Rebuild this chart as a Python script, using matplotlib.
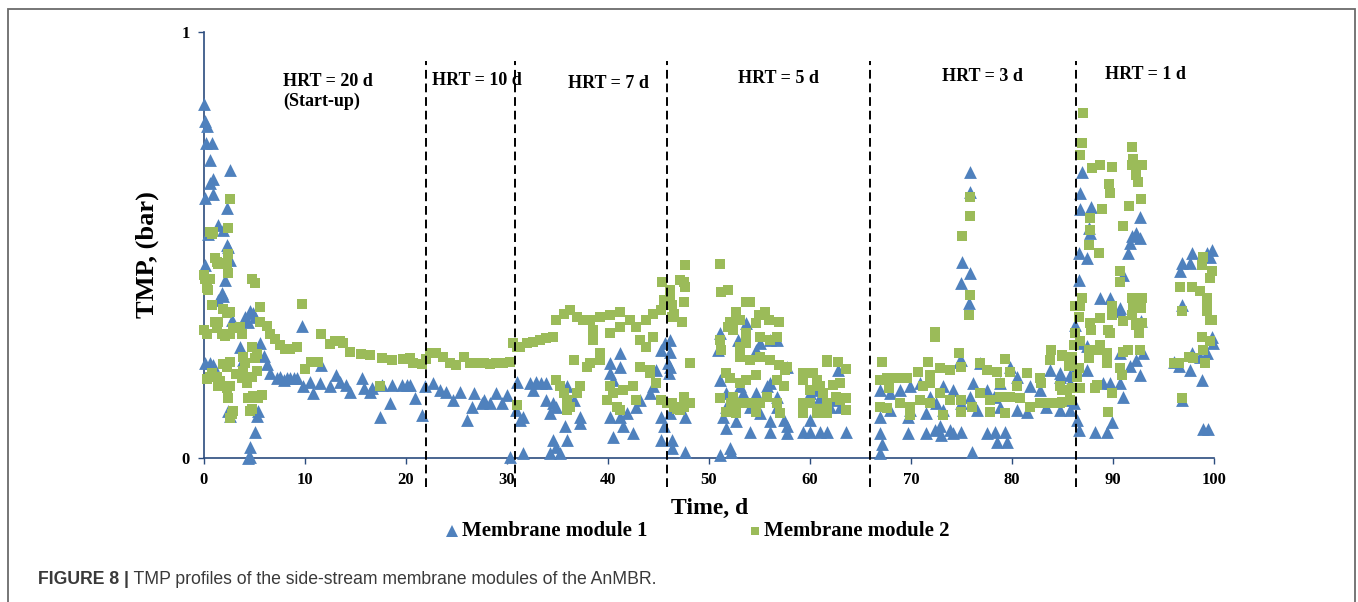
import matplotlib.pyplot as plt
from matplotlib.lines import Line2D
from matplotlib.patches import Rectangle

# (day, TMP in bar), grouped by HRT period
m1_hrt20 = [(0.03, 0.83), (0.1, 0.79), (0.26, 0.78), (0.2, 0.74), (0.76, 0.74), (0.59, 0.70),
            (0.92, 0.656), (0.59, 0.645), (0.1, 0.61), (0.92, 0.62), (2.57, 0.676), (2.24, 0.586),
            (1.42, 0.547), (0.43, 0.527), (1.91, 0.535), (2.24, 0.50), (2.41, 0.496), (2.57, 0.465),
            (0.1, 0.453), (2.08, 0.418), (1.75, 0.387), (1.91, 0.38), (1.42, 0.37), (4.06, 0.33),
            (4.55, 0.345), (4.89, 0.34), (4.39, 0.32), (5.05, 0.33), (2.74, 0.324), (0.1, 0.222),
            (0.59, 0.222), (0.92, 0.218), (5.54, 0.27), (3.56, 0.26), (3.9, 0.23), (5.9, 0.24),
            (6.2, 0.22), (6.5, 0.2), (2.57, 0.098), (2.41, 0.11), (5.21, 0.098), (5.38, 0.11),
            (5.05, 0.062), (4.55, 0.027), (4.55, 0.003), (4.39, 0.0), (7.2, 0.187), (7.5, 0.19),
            (7.9, 0.183), (8.2, 0.187), (8.5, 0.187), (8.9, 0.187), (9.2, 0.187), (9.67, 0.31),
            (9.83, 0.168), (10.5, 0.179), (10.8, 0.152), (11.5, 0.175), (11.6, 0.218), (12.5, 0.168),
            (13.1, 0.195), (13.5, 0.179), (14.1, 0.171), (14.5, 0.156), (15.6, 0.187), (15.8, 0.164),
            (16.4, 0.156), (16.6, 0.164), (17.4, 0.097), (17.6, 0.171), (18.4, 0.128), (18.6, 0.171),
            (19.6, 0.171), (20.1, 0.171), (20.4, 0.171), (20.9, 0.14), (21.6, 0.10), (21.9, 0.168)]
m1_hrt10 = [(22.7, 0.175), (23.4, 0.16), (24.0, 0.156), (24.7, 0.136), (25.3, 0.156), (26.0, 0.089),
            (26.5, 0.12), (26.7, 0.152), (27.5, 0.128), (27.7, 0.136), (28.3, 0.128), (28.9, 0.152),
            (29.5, 0.128), (30.0, 0.148), (30.3, 0.003)]
m1_hrt7 = [(31.0, 0.179), (30.9, 0.113), (31.3, 0.089), (31.6, 0.097), (31.6, 0.011), (32.3, 0.175),
           (32.9, 0.179), (33.4, 0.175), (33.9, 0.175), (32.6, 0.16), (33.9, 0.136), (34.6, 0.128),
           (34.9, 0.12), (34.3, 0.105), (34.6, 0.042), (34.9, 0.027), (35.2, 0.011), (34.3, 0.011),
           (35.9, 0.042), (35.7, 0.074), (35.9, 0.168), (36.6, 0.136), (37.2, 0.097), (37.2, 0.081),
           (40.2, 0.222), (41.2, 0.246), (41.2, 0.214), (40.2, 0.199), (40.5, 0.183), (40.2, 0.097),
           (41.2, 0.097), (41.5, 0.074), (42.5, 0.058), (40.5, 0.05), (41.9, 0.105), (42.8, 0.12),
           (43.2, 0.136), (44.2, 0.152), (44.5, 0.168), (44.8, 0.206), (45.2, 0.254), (45.6, 0.27),
           (45.2, 0.042), (45.2, 0.097), (45.5, 0.074)]
m1_hrt5 = [(46.1, 0.277), (46.1, 0.25), (45.9, 0.222), (46.1, 0.214), (46.0, 0.199), (47.6, 0.097),
           (46.1, 0.105), (46.3, 0.043), (46.3, 0.023), (47.6, 0.015), (51.1, 0.293), (50.9, 0.254),
           (52.9, 0.277), (53.7, 0.316), (55.0, 0.269), (54.7, 0.254), (56.0, 0.277), (56.7, 0.277),
           (51.1, 0.183), (51.7, 0.152), (53.1, 0.168), (53.4, 0.152), (54.7, 0.152), (55.7, 0.168),
           (56.0, 0.175), (56.7, 0.144), (57.7, 0.214), (51.7, 0.12), (51.4, 0.097), (52.7, 0.086),
           (54.1, 0.12), (55.0, 0.105), (56.7, 0.12), (57.4, 0.09), (56.0, 0.086), (57.7, 0.074),
           (57.7, 0.058), (54.1, 0.062), (56.0, 0.062), (51.7, 0.07), (51.1, 0.007), (52.1, 0.023),
           (52.2, 0.015), (60.0, 0.152), (60.7, 0.16), (61.0, 0.144), (62.0, 0.12), (62.3, 0.136),
           (63.0, 0.12), (60.0, 0.09), (59.3, 0.062), (60.0, 0.062), (61.0, 0.062), (61.7, 0.062),
           (63.6, 0.062), (62.8, 0.207)]
m1_hrt3 = [(75.8, 0.672), (75.8, 0.625), (75.0, 0.461), (75.8, 0.434), (74.9, 0.41), (75.7, 0.363),
           (74.9, 0.23), (74.7, 0.225), (66.9, 0.097), (66.9, 0.058), (67.1, 0.034), (66.9, 0.011),
           (69.7, 0.097), (69.7, 0.058), (71.5, 0.058), (72.4, 0.066), (72.9, 0.074), (73.0, 0.054),
           (73.9, 0.066), (74.2, 0.058), (74.9, 0.062), (76.0, 0.015), (77.5, 0.058), (78.3, 0.062),
           (79.3, 0.062), (79.5, 0.038), (78.5, 0.038), (66.9, 0.16), (67.9, 0.152), (68.9, 0.16),
           (69.9, 0.168), (70.9, 0.175), (71.9, 0.144), (72.5, 0.128), (73.2, 0.168), (74.2, 0.16),
           (74.9, 0.128), (75.8, 0.144), (76.1, 0.175), (76.8, 0.222), (77.5, 0.16), (78.2, 0.144),
           (78.8, 0.175), (79.8, 0.214), (80.5, 0.191), (81.8, 0.168), (82.8, 0.16), (83.8, 0.207),
           (84.7, 0.191), (85.7, 0.175), (67.9, 0.113), (69.9, 0.113), (71.5, 0.105), (73.2, 0.113),
           (76.5, 0.113), (78.8, 0.12), (80.5, 0.113), (81.5, 0.109), (83.4, 0.12), (84.7, 0.113),
           (85.7, 0.113), (84.75, 0.199), (85.7, 0.195), (85.7, 0.136)]
m1_hrt1 = [(86.9, 0.672), (86.7, 0.621), (86.7, 0.585), (87.8, 0.59), (87.6, 0.539), (87.7, 0.528),
           (92.7, 0.566), (92.3, 0.528), (91.9, 0.52), (92.7, 0.516), (91.7, 0.504), (91.5, 0.481),
           (86.6, 0.481), (87.4, 0.469), (86.6, 0.418), (91.0, 0.43), (88.7, 0.375), (89.7, 0.375),
           (90.7, 0.352), (90.7, 0.344), (92.8, 0.321), (86.2, 0.313), (86.7, 0.27), (87.4, 0.262),
           (88.5, 0.258), (90.7, 0.246), (87.4, 0.207), (89.0, 0.176), (89.7, 0.176), (90.7, 0.176),
           (91.7, 0.215), (92.3, 0.23), (93.0, 0.246), (92.7, 0.195), (91.0, 0.144), (86.1, 0.128),
           (86.4, 0.089), (86.6, 0.066), (88.2, 0.062), (89.4, 0.062), (89.9, 0.085), (86.2, 0.207),
           (96.6, 0.438), (96.8, 0.457), (97.6, 0.457), (97.8, 0.482), (99.3, 0.482), (99.8, 0.488),
           (99.6, 0.473), (96.8, 0.359), (96.0, 0.226), (96.5, 0.215), (97.8, 0.246), (97.6, 0.207),
           (98.6, 0.238), (99.3, 0.246), (99.8, 0.285), (99.9, 0.27), (98.8, 0.183), (96.8, 0.136),
           (98.9, 0.069), (99.4, 0.069)]

m2_hrt20 = [(2.57, 0.609), (0.59, 0.53), (0.76, 0.525), (0.92, 0.53), (2.41, 0.54), (2.41, 0.48),
            (2.24, 0.457), (1.09, 0.47), (1.25, 0.46), (1.42, 0.455), (0.0, 0.43), (0.1, 0.42),
            (0.26, 0.40), (0.43, 0.395), (0.59, 0.42), (2.41, 0.435), (4.72, 0.42), (5.05, 0.41),
            (5.54, 0.355), (0.76, 0.36), (1.91, 0.35), (2.57, 0.342), (2.24, 0.34), (0.0, 0.30),
            (0.26, 0.29), (1.09, 0.32), (1.42, 0.32), (1.25, 0.305), (1.75, 0.29), (2.08, 0.287),
            (2.57, 0.29), (2.9, 0.305), (3.56, 0.308), (3.72, 0.29), (5.54, 0.32), (6.2, 0.31),
            (6.53, 0.29), (7.0, 0.28), (7.5, 0.265), (8.0, 0.257), (8.5, 0.257), (9.2, 0.26),
            (9.67, 0.362), (9.99, 0.21), (10.6, 0.225), (11.3, 0.225), (11.6, 0.29), (12.5, 0.267),
            (13.0, 0.275), (13.5, 0.275), (13.8, 0.27), (14.5, 0.25), (15.5, 0.245), (16.4, 0.242),
            (17.6, 0.235), (18.6, 0.23), (19.7, 0.232), (20.4, 0.235), (20.7, 0.223), (21.6, 0.22),
            (17.4, 0.168), (0.26, 0.185), (0.59, 0.19), (0.76, 0.2), (1.25, 0.19), (1.58, 0.18),
            (1.42, 0.17), (2.24, 0.165), (2.57, 0.168), (2.41, 0.14), (2.74, 0.103), (2.9, 0.11),
            (2.57, 0.095), (1.91, 0.22), (2.24, 0.213), (2.57, 0.225), (3.22, 0.197), (3.9, 0.205),
            (3.72, 0.188), (4.22, 0.175), (4.72, 0.19), (5.21, 0.205), (4.39, 0.14), (4.88, 0.145),
            (5.38, 0.14), (5.7, 0.148), (4.72, 0.115), (4.55, 0.11), (5.21, 0.245), (4.72, 0.26),
            (5.05, 0.235), (3.9, 0.238), (4.06, 0.222)]
m2_hrt10 = [(22.0, 0.232), (22.4, 0.246), (23.0, 0.246), (23.7, 0.238), (24.4, 0.222), (25.0, 0.218),
            (25.7, 0.238), (26.3, 0.222), (27.0, 0.222), (27.7, 0.222), (28.3, 0.22), (28.9, 0.222),
            (29.6, 0.222), (30.3, 0.226)]
m2_hrt7 = [(30.6, 0.27), (31.0, 0.261), (31.3, 0.261), (32.0, 0.27), (32.6, 0.273), (33.3, 0.277),
           (33.9, 0.281), (34.6, 0.285), (34.9, 0.324), (35.6, 0.339), (36.2, 0.347), (36.9, 0.332),
           (37.5, 0.324), (38.2, 0.324), (39.2, 0.332), (40.2, 0.336), (41.2, 0.343), (38.5, 0.3),
           (40.2, 0.293), (41.2, 0.308), (42.2, 0.324), (42.8, 0.308), (43.8, 0.324), (44.5, 0.339),
           (45.2, 0.347), (45.5, 0.371), (45.3, 0.414), (36.6, 0.23), (37.9, 0.214), (38.2, 0.222),
           (39.2, 0.246), (39.2, 0.23), (38.5, 0.277), (34.9, 0.183), (35.2, 0.168), (35.6, 0.152),
           (35.9, 0.136), (35.9, 0.113), (36.2, 0.12), (37.2, 0.168), (36.9, 0.152), (39.9, 0.136),
           (40.2, 0.168), (40.5, 0.152), (40.9, 0.12), (41.2, 0.113), (41.5, 0.16), (43.2, 0.277),
           (43.8, 0.261), (44.5, 0.285), (44.2, 0.206), (43.2, 0.214), (42.5, 0.168), (42.8, 0.136),
           (44.2, 0.199), (44.8, 0.175), (45.2, 0.136), (31.0, 0.124)]
m2_hrt5 = [(46.1, 0.394), (46.1, 0.371), (46.5, 0.339), (47.1, 0.418), (45.8, 0.128), (46.5, 0.12),
           (47.1, 0.113), (47.6, 0.453), (51.1, 0.455), (47.5, 0.414), (47.6, 0.402), (51.2, 0.39),
           (51.9, 0.394), (46.3, 0.359), (47.5, 0.367), (47.3, 0.32), (46.3, 0.332), (53.7, 0.367),
           (54.1, 0.367), (52.7, 0.343), (53.1, 0.324), (52.1, 0.32), (51.9, 0.308), (52.4, 0.301),
           (54.9, 0.336), (55.5, 0.343), (55.9, 0.324), (54.7, 0.316), (56.9, 0.32), (51.1, 0.277),
           (51.2, 0.254), (53.7, 0.293), (55.0, 0.285), (56.0, 0.277), (56.7, 0.285), (53.1, 0.261),
           (53.7, 0.269), (53.1, 0.238), (54.1, 0.23), (55.0, 0.238), (56.0, 0.23), (56.9, 0.218),
           (57.5, 0.207), (57.7, 0.214), (48.1, 0.222), (51.7, 0.199), (52.1, 0.187), (53.1, 0.175),
           (53.7, 0.183), (54.7, 0.195), (56.7, 0.183), (57.4, 0.168), (47.5, 0.144), (48.1, 0.128),
           (47.5, 0.12), (46.8, 0.116), (46.3, 0.128), (51.1, 0.14), (52.4, 0.144), (52.2, 0.128),
           (53.1, 0.128), (54.1, 0.128), (55.0, 0.128), (55.7, 0.144), (56.7, 0.128), (57.0, 0.105),
           (51.7, 0.109), (52.7, 0.105), (54.7, 0.109), (59.3, 0.199), (59.3, 0.183), (60.3, 0.199),
           (60.7, 0.183), (61.0, 0.168), (61.7, 0.226), (61.7, 0.23), (62.8, 0.226), (63.6, 0.21),
           (63.0, 0.175), (62.3, 0.171), (60.0, 0.16), (61.3, 0.152), (62.6, 0.144), (63.0, 0.136),
           (63.6, 0.14), (59.3, 0.128), (60.0, 0.128), (60.7, 0.116), (61.7, 0.128), (59.3, 0.105),
           (60.7, 0.105), (61.7, 0.105), (63.6, 0.113)]
m2_hrt3 = [(75.8, 0.613), (75.8, 0.568), (75.0, 0.52), (75.8, 0.383), (75.7, 0.336), (72.4, 0.296),
           (72.4, 0.285), (74.7, 0.246), (67.1, 0.225), (71.7, 0.225), (79.3, 0.232), (83.9, 0.254),
           (84.9, 0.24), (66.9, 0.183), (67.6, 0.187), (68.6, 0.187), (69.6, 0.187), (70.7, 0.203),
           (71.9, 0.195), (72.9, 0.211), (73.9, 0.207), (74.9, 0.214), (76.8, 0.222), (77.5, 0.207),
           (78.5, 0.203), (79.8, 0.203), (81.5, 0.199), (82.8, 0.187), (83.8, 0.23), (85.7, 0.23),
           (66.9, 0.12), (67.6, 0.117), (68.9, 0.128), (69.9, 0.12), (70.9, 0.136), (71.9, 0.128),
           (72.9, 0.152), (73.9, 0.136), (74.9, 0.136), (76.0, 0.12), (76.8, 0.152), (77.8, 0.136),
           (78.8, 0.144), (79.8, 0.144), (80.8, 0.14), (81.8, 0.12), (82.8, 0.128), (83.8, 0.128),
           (84.7, 0.128), (85.4, 0.16), (69.9, 0.101), (73.2, 0.101), (74.9, 0.109), (77.8, 0.109),
           (79.3, 0.105), (67.8, 0.164), (71.2, 0.168), (71.9, 0.175), (78.8, 0.175), (80.5, 0.168),
           (82.9, 0.175), (84.7, 0.168), (84.9, 0.242), (85.9, 0.238), (85.6, 0.215), (84.9, 0.16),
           (85.9, 0.164), (85.7, 0.136), (84.9, 0.132)]
m2_hrt1 = [(87.0, 0.809), (86.9, 0.739), (86.7, 0.711), (87.9, 0.68), (88.7, 0.688), (89.9, 0.684),
           (91.9, 0.731), (92.0, 0.703), (91.9, 0.688), (92.9, 0.688), (92.3, 0.664), (92.5, 0.649),
           (89.6, 0.643), (89.7, 0.621), (92.8, 0.607), (91.6, 0.592), (88.9, 0.584), (87.7, 0.563),
           (87.7, 0.535), (91.0, 0.545), (87.6, 0.5), (88.6, 0.482), (90.7, 0.438), (90.7, 0.414),
           (86.9, 0.375), (86.7, 0.356), (86.2, 0.356), (86.6, 0.332), (91.9, 0.375), (92.9, 0.375),
           (92.0, 0.356), (92.8, 0.352), (89.9, 0.356), (89.9, 0.336), (88.7, 0.328), (91.9, 0.336),
           (91.0, 0.321), (92.3, 0.313), (92.9, 0.317), (92.6, 0.293), (87.7, 0.317), (87.8, 0.301),
           (89.5, 0.301), (89.7, 0.293), (86.2, 0.293), (86.7, 0.274), (86.1, 0.266), (88.7, 0.266),
           (88.5, 0.254), (87.6, 0.254), (87.6, 0.234), (89.4, 0.223), (89.4, 0.246), (91.0, 0.25),
           (91.5, 0.254), (92.7, 0.254), (86.6, 0.211), (86.4, 0.191), (90.7, 0.211), (90.9, 0.195),
           (88.4, 0.172), (88.2, 0.164), (89.9, 0.153), (86.7, 0.164), (89.5, 0.109), (96.8, 0.14),
           (96.6, 0.402), (96.8, 0.344), (97.8, 0.402), (98.6, 0.391), (98.9, 0.473), (98.8, 0.453),
           (99.8, 0.438), (99.6, 0.422), (99.3, 0.375), (99.3, 0.363), (99.3, 0.344), (99.6, 0.324),
           (99.8, 0.324), (98.8, 0.285), (99.6, 0.274), (98.9, 0.254), (99.1, 0.223), (97.9, 0.234),
           (97.5, 0.238), (96.5, 0.223), (96.0, 0.223)]

# HRT change days (dashed lines) and period labels
hrt_changes = [22.0, 30.8, 45.8, 65.9, 86.3]
hrt_labels = ["HRT = 20 d\n(Start-up)", "HRT = 10 d", "HRT = 7 d", "HRT = 5 d", "HRT = 3 d", "HRT = 1 d"]
hrt_label_x = [7.8, 22.6, 36.0, 52.9, 73.1, 89.2]
hrt_label_y = [0.86, 0.887, 0.88, 0.89, 0.895, 0.90]

blue = '#4F81BD'
green = '#9BBB59'
axcol = '#2B4C7E'
serif = 'Liberation Serif'

m1 = m1_hrt20 + m1_hrt10 + m1_hrt7 + m1_hrt5 + m1_hrt3 + m1_hrt1
m2 = m2_hrt20 + m2_hrt10 + m2_hrt7 + m2_hrt5 + m2_hrt3 + m2_hrt1
m1_day, m1_tmp = zip(*m1)
m2_day, m2_tmp = zip(*m2)

fig = plt.figure(figsize=(13.58, 6.02), dpi=100)
ax = fig.add_axes([0.1502, 0.2392, 0.7438, 0.7076])

ax.scatter(m1_day, m1_tmp, marker='^', s=85, color=blue, linewidths=0, zorder=3, clip_on=False)
ax.scatter(m2_day, m2_tmp, marker='s', s=44, color=green, linewidths=0, zorder=4, clip_on=False)

for xv in hrt_changes:
    ax.plot([xv, xv], [-0.068, 0.932], color='black', lw=1.4, ls=(0, (4.5, 2.5)),
            clip_on=False, zorder=5)

for lab, lx, ly in zip(hrt_labels, hrt_label_x, hrt_label_y):
    ax.text(lx, ly, lab, ha='left', va='center', fontsize=13, fontweight='bold',
            family=serif, linespacing=1.2)

ax.set_xlim(0, 100)
ax.set_ylim(0, 1)
ax.set_xticks(range(0, 101, 10))
ax.set_yticks([0, 1])
for side in ['top', 'right']:
    ax.spines[side].set_visible(False)
for side in ['left', 'bottom']:
    ax.spines[side].set_color(axcol)
    ax.spines[side].set_linewidth(1.2)
ax.tick_params(direction='out', length=4, color=axcol, width=1)
ax.tick_params(axis='x', pad=6)
ax.tick_params(axis='y', pad=6)
for t in ax.get_xticklabels() + ax.get_yticklabels():
    t.set_fontfamily(serif)
    t.set_fontweight('bold')
    t.set_fontsize(12)

fig.text(710 / 1358, 1 - 508 / 602, "Time, d", ha='center', va='center',
         fontsize=17, fontweight='bold', family=serif)
fig.text(147 / 1358, 1 - 255 / 602, "TMP, (bar)", ha='center', va='center', rotation=90,
         fontsize=19, fontweight='bold', family=serif)

# legend
ly = 1 - 531 / 602
fig.add_artist(Line2D([452 / 1358], [ly], marker='^', ms=9, color=blue, lw=0, mew=0,
                      transform=fig.transFigure))
fig.text(462 / 1358, ly, "Membrane module 1", ha='left', va='center', fontsize=15,
         fontweight='bold', family=serif)
fig.add_artist(Line2D([755 / 1358], [ly], marker='s', ms=6, color=green, lw=0, mew=0,
                      transform=fig.transFigure))
fig.text(764 / 1358, ly, "Membrane module 2", ha='left', va='center', fontsize=15,
         fontweight='bold', family=serif)

# caption and frame
cap = fig.text(38 / 1358, 1 - 580 / 602, "FIGURE 8 |", ha='left', va='center', fontsize=12.7,
               fontweight='bold', family='Liberation Sans', color='#3a3a3a')
ax.annotate(" TMP profiles of the side-stream membrane modules of the AnMBR.", xy=(1, 0),
            xycoords=cap, va='bottom', ha='left', fontsize=12.7, family='Liberation Sans',
            color='#3a3a3a', annotation_clip=False)
fig.add_artist(Rectangle((8 / 1358, -0.05), 1347 / 1358, 0.985 + 0.05, fill=False,
                         edgecolor='#6b6b6b', lw=1.3, transform=fig.transFigure, clip_on=False))

fig.savefig('out.png', dpi=100)
